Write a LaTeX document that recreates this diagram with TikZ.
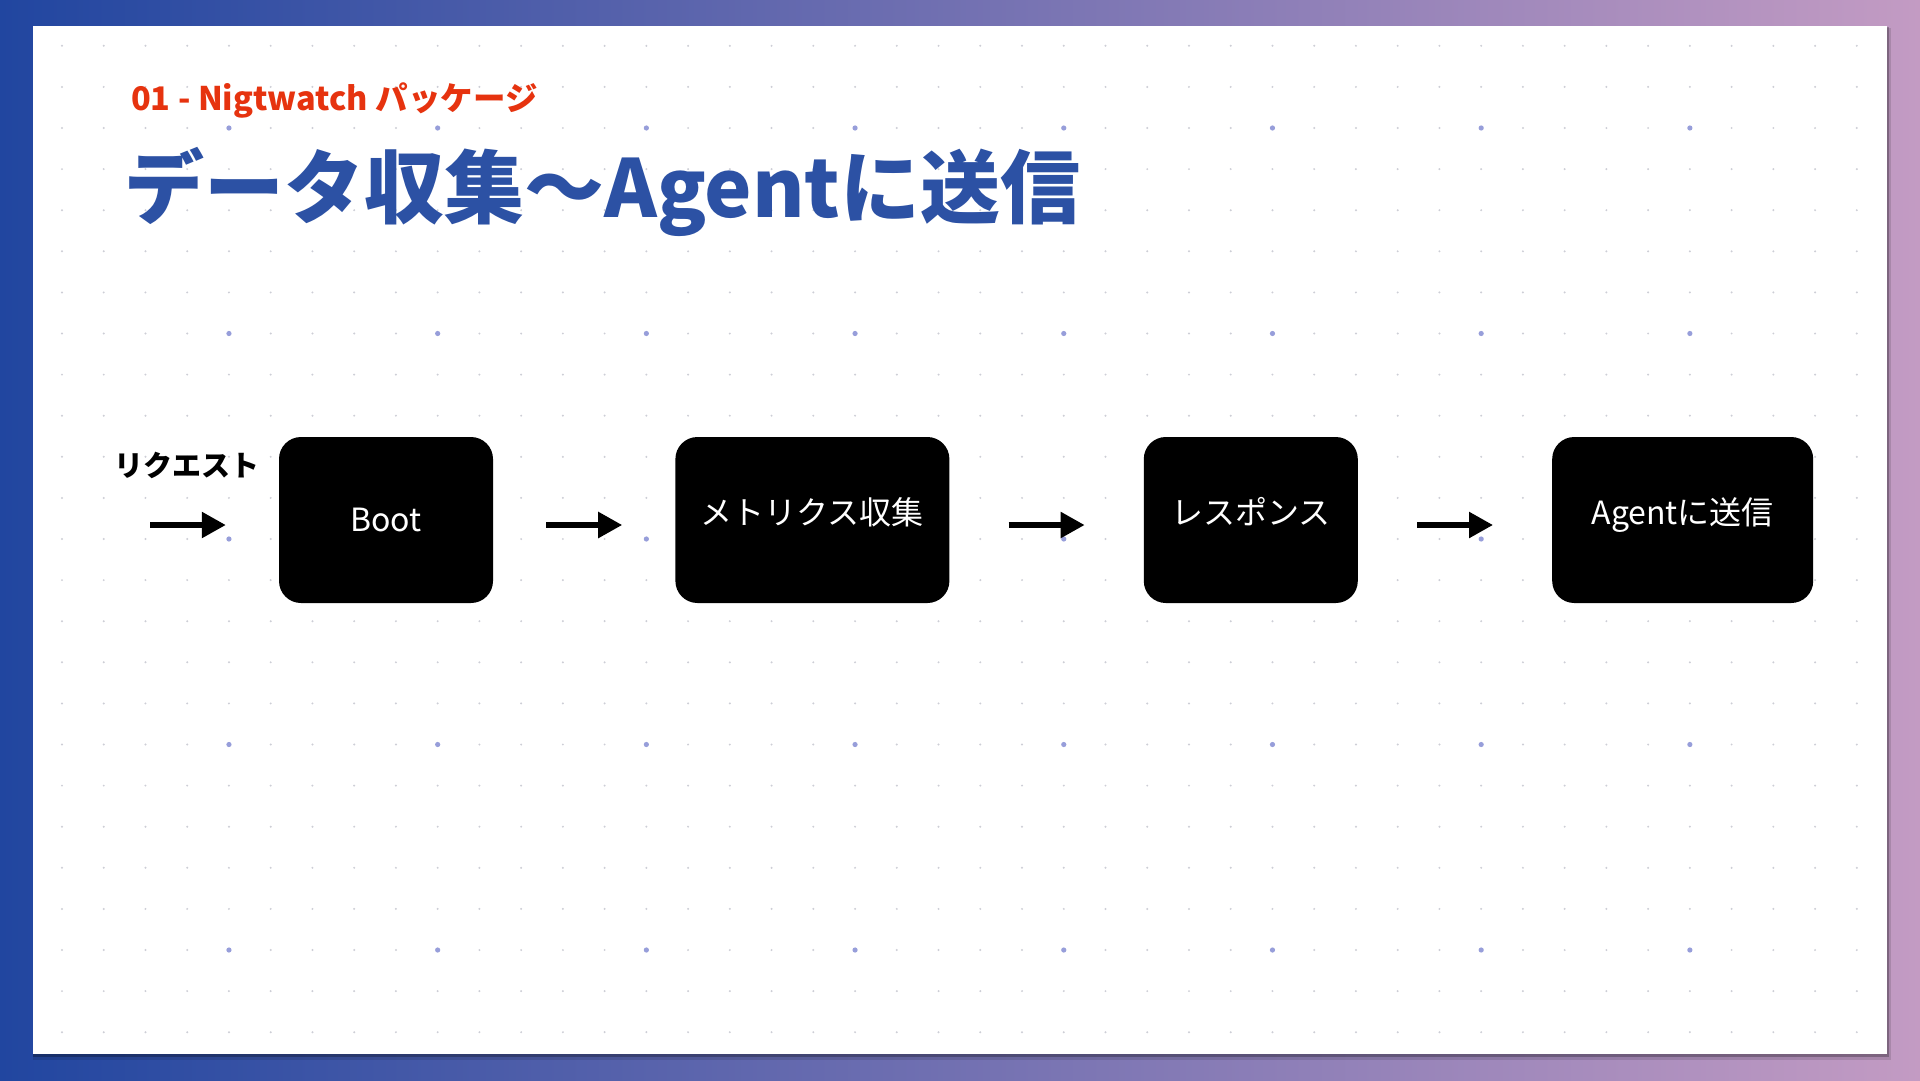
\documentclass[tikz,border=0pt]{standalone}
\usepackage{fontspec}
\setmainfont{Noto Sans CJK JP}
\usetikzlibrary{arrows.meta,positioning}
\definecolor{slideblue}{HTML}{2146A0}
\definecolor{slidepink}{HTML}{C39BC3}
\definecolor{titleblue}{HTML}{2C51A4}
\definecolor{labelred}{HTML}{E6330F}
\definecolor{dotgray}{HTML}{CDCED6}
\definecolor{dotblue}{HTML}{979EDA}
\tikzset{
  procbox/.style={
    fill=black,
    rounded corners=22pt,
    minimum width=#1,
    minimum height=166pt,
    inner sep=0pt,
    text=white,
    font=\fontsize{32}{38}\selectfont
  },
  procbox/.default=214pt,
  jptext/.style={text height=24pt,text depth=15pt},
  arrow/.style={-{Triangle[length=24pt,width=25pt]},line width=5.5pt,shorten <=#1,shorten >=#1},
  arrow/.default=58pt,
  smalldot/.style={fill=dotgray},
  bigdot/.style={fill=dotblue}
}

\begin{document}
\begin{tikzpicture}[x=1pt,y=-1pt]
  \useasboundingbox (0,0) rectangle (1920,1080);
  \shade[left color=slideblue,right color=slidepink] (0,0) rectangle (1920,1080);
  \fill[black,opacity=0.12] (33,28) rectangle (1891,1060);
  \fill[black,opacity=0.25] (33,27) rectangle (1889,1057);
  \fill[white] (33,26) rectangle (1887,1054);

  % dot grid
  \foreach \i in {0,...,43} {
    \foreach \j in {0,...,24} {
      \fill[smalldot] (62+41.74*\i,45.8+41.1*\j) circle (1.1pt);
    }
  }
  \foreach \i in {4,9,...,39} {
    \foreach \j in {2,7,...,22} {
      \fill[bigdot] (62+41.74*\i,45.8+41.1*\j) circle (2.6pt);
    }
  }

  \node[anchor=base west,inner sep=0pt,text=labelred,font=\fontsize{32.5}{38}\selectfont\bfseries] (subtitle) at (131,110) {01 - Nigtwatch パッケージ};
  \node[anchor=base west,inner sep=0pt,text=titleblue,font=\fontsize{80}{92}\selectfont\bfseries] (title) at (124,217) {データ収集～Agentに送信};

  \node[procbox=214pt] (boot) at (386,520) {Boot};
  \node[procbox=274pt, jptext, right=182pt of boot] (metrics) {メトリクス収集};
  \node[procbox=214pt, jptext, right=194pt of metrics] (response) {レスポンス};
  \node[procbox=261pt, jptext, right=194pt of response] (agent) {Agentに送信};

  \node[inner sep=0pt,font=\fontsize{29}{34}\selectfont\bfseries] (request) at (187,465) {リクエスト};
  \coordinate (entry) at (150,525);

  \draw[arrow=0pt] (entry) -- ([xshift=-53pt]entry -| boot.west);
  \draw[arrow=53pt] ([yshift=-5pt]boot.east) -- ([yshift=-5pt]metrics.west);
  \draw[arrow=59pt] ([yshift=-5pt]metrics.east) -- ([yshift=-5pt]response.west);
  \draw[arrow=59pt] ([yshift=-5pt]response.east) -- ([yshift=-5pt]agent.west);
\end{tikzpicture}
\end{document}
